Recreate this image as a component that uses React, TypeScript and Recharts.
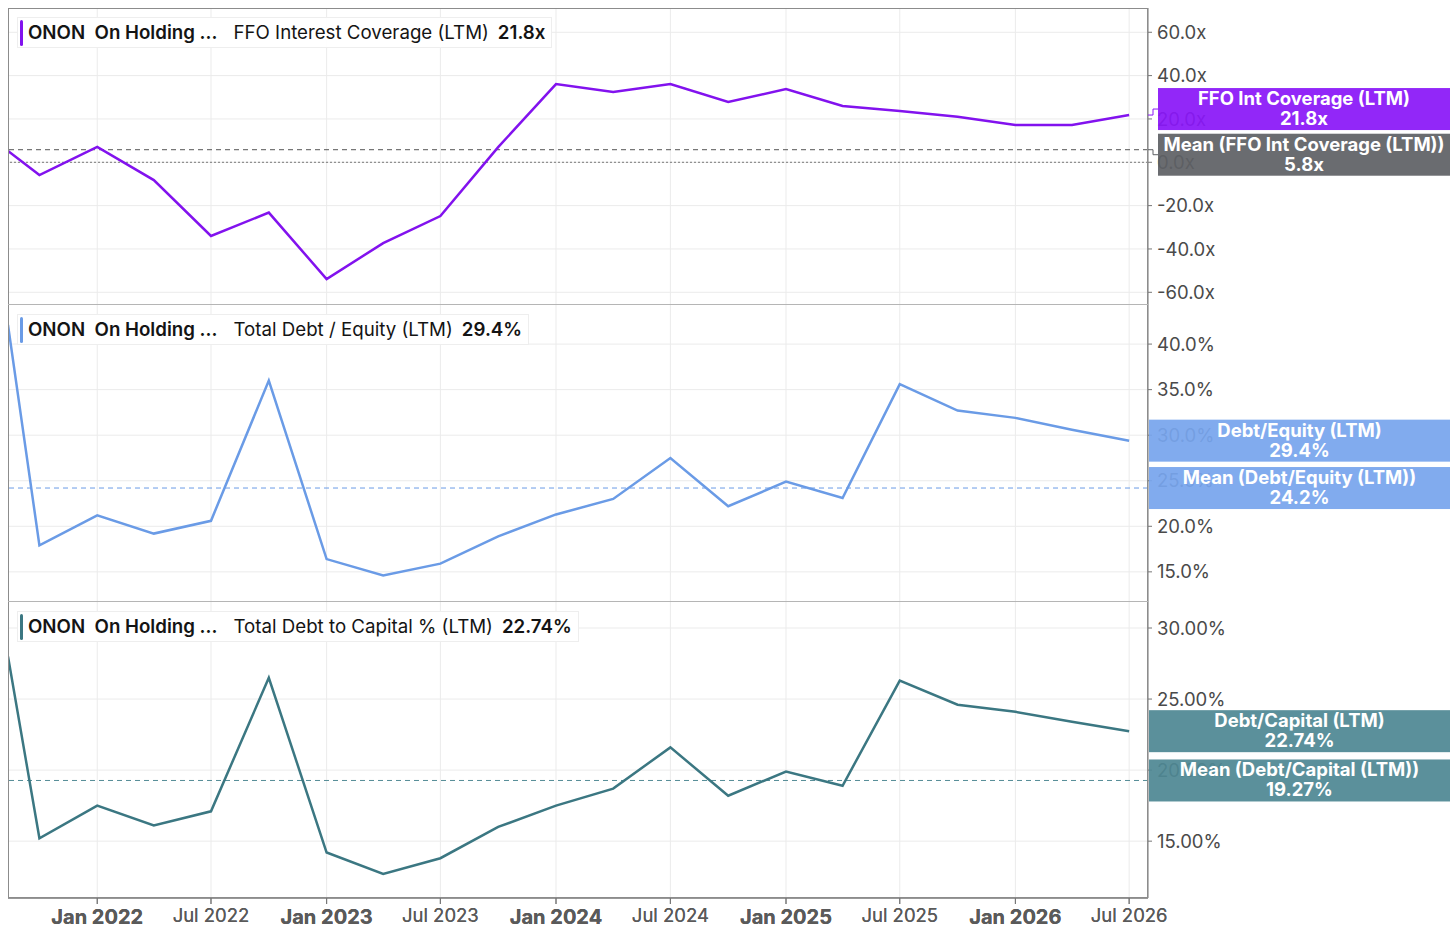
import React from "react";
import {
  CartesianGrid,
  Line,
  LineChart,
  ReferenceLine,
  XAxis,
  YAxis,
} from "recharts";

const dates = [
  "2021-08-12", "2021-10-01", "2022-01-01", "2022-04-01", "2022-07-01",
  "2022-10-01", "2023-01-01", "2023-04-01", "2023-07-01", "2023-10-01",
  "2024-01-01", "2024-04-01", "2024-07-01", "2024-10-01", "2025-01-01",
  "2025-04-01", "2025-07-01", "2025-10-01", "2026-01-01", "2026-04-01",
  "2026-07-01",
];

const ffoCoverage = [
  5.2, -5.9, 7.1, -8.2, -34.0, -23.2, -53.9, -37.3, -24.8, 7.0, 36.1,
  32.4, 36.1, 27.8, 33.8, 26.0, 23.7, 21.0, 17.2, 17.2, 21.8,
];

const debtToEquity = [
  42.1, 17.9, 21.2, 19.2, 20.6, 36.0, 16.4, 14.6, 15.9, 18.9, 21.3,
  23.0, 27.5, 22.2, 24.9, 23.1, 35.6, 32.7, 31.9, 30.6, 29.4,
];

const debtToCapital = [
  28.0, 15.2, 17.5, 16.1, 17.1, 26.5, 14.2, 12.7, 13.8, 16.0, 17.5,
  18.7, 21.6, 18.2, 19.9, 18.9, 26.3, 24.6, 24.1, 23.4, 22.74,
];

const xTickDates = [
  "2022-01-01", "2022-07-01", "2023-01-01", "2023-07-01", "2024-01-01",
  "2024-07-01", "2025-01-01", "2025-07-01", "2026-01-01", "2026-07-01",
];

const ffoTicks = [-60, -40, -20, 0, 20, 40, 60];
const deTicks = [15, 20, 25, 30, 35, 40];
const dcTicks = [15, 20, 25, 30];

const ffoMean = 5.8;
const deMean = 24.2;
const dcMean = 19.27;

const MONTHS = ["Jan", "Feb", "Mar", "Apr", "May", "Jun", "Jul", "Aug", "Sep", "Oct", "Nov", "Dec"];
const FONT = "Inter, 'Noto Sans', sans-serif";
const WIDTH = 1456;
const AXIS_W = 308;

const toTime = (d: string) => new Date(d + "T00:00:00Z").getTime();
const xDomain = [toTime("2021-08-12"), toTime("2026-07-31")];
const xTicks = xTickDates.map(toTime);

const rows = dates.map((d, i) => ({
  t: toTime(d),
  ffo: ffoCoverage[i],
  de: debtToEquity[i],
  dc: debtToCapital[i],
}));

function XTick(props: any) {
  const { x, y, payload } = props;
  const d = new Date(payload.value);
  const jan = d.getUTCMonth() === 0;
  return (
    <text
      x={x}
      y={y + (jan ? 18 : 16)}
      textAnchor="middle"
      fill="#5a5a5a"
      fontFamily={FONT}
      fontSize={jan ? 20 : 18.5}
      fontWeight={jan ? 700 : 400}
    >
      {`${MONTHS[d.getUTCMonth()]} ${d.getUTCFullYear()}`}
    </text>
  );
}

function SideBox(props: any) {
  const { viewBox, fill, title, value, shift = 0, gap = 0, connector = false } = props;
  const right = viewBox.x + viewBox.width;
  const cy = viewBox.y + shift;
  const left = right + gap;
  const w = 1450 - left;
  const h = 42;
  return (
    <g>
      {connector && (
        <path
          d={`M${right},${viewBox.y} L${right + 5},${viewBox.y} L${right + 5},${cy} L${left},${cy}`}
          stroke={fill}
          fill="none"
          strokeWidth={1}
        />
      )}
      <rect x={left} y={cy - h / 2} width={w} height={h} fill={fill} fillOpacity={0.93} />
      <text
        x={left + w / 2}
        y={cy - 4}
        textAnchor="middle"
        fill="#fff"
        fontFamily={FONT}
        fontSize={18.5}
        fontWeight={700}
      >
        {title}
      </text>
      <text
        x={left + w / 2}
        y={cy + 16}
        textAnchor="middle"
        fill="#fff"
        fontFamily={FONT}
        fontSize={18.5}
        fontWeight={700}
      >
        {value}
      </text>
    </g>
  );
}

type PanelProps = {
  top: number;
  height: number;
  marginTop: number;
  dataKey: "ffo" | "de" | "dc";
  domain: number[];
  ticks: number[];
  fmt: (v: number) => string;
  lineColor: string;
  boxColor: string;
  meanColor: string;
  meanBoxColor: string;
  mean: number;
  last: number;
  boxTitle: string;
  meanTitle: string;
  lastShift?: number;
  meanShift?: number;
  boxGap?: number;
  zeroLine?: boolean;
  showX?: boolean;
};

function Panel(p: PanelProps) {
  const margin = { top: p.marginTop, right: 0, bottom: 0, left: 8 };
  const xAxis = (
    <XAxis
      dataKey="t"
      type="number"
      scale="time"
      domain={xDomain}
      ticks={xTicks}
      hide={!p.showX}
      height={p.showX ? 41 : 0}
      axisLine={{ stroke: "#777" }}
      tickLine={{ stroke: "#777" }}
      tickSize={6}
      tick={<XTick />}
      interval={0}
      allowDataOverflow
    />
  );
  return (
    <div style={{ position: "absolute", left: 0, top: p.top, width: WIDTH, height: p.height }}>
      <div style={{ position: "absolute", left: 0, top: 0 }}>
        <LineChart width={WIDTH} height={p.height} data={rows} margin={margin}>
          <CartesianGrid
            stroke="#ebebeb"
            verticalValues={xTicks}
            horizontalValues={p.ticks}
          />
          {xAxis}
          <YAxis
            orientation="right"
            type="number"
            domain={p.domain}
            ticks={p.ticks}
            width={AXIS_W}
            allowDataOverflow
            axisLine={{ stroke: "#777" }}
            tickLine={{ stroke: "#777" }}
            tickSize={4}
            tickMargin={5}
            interval={0}
            tickFormatter={p.fmt}
            tick={{ fill: "#4a4a4a", fontSize: 18.5, fontFamily: FONT, textAnchor: "start" }}
          />
          {p.zeroLine && (
            <ReferenceLine y={0} stroke="#777" strokeDasharray="2 2" strokeWidth={1} />
          )}
          <ReferenceLine
            y={p.mean}
            stroke={p.meanColor}
            strokeDasharray="5 4"
            strokeWidth={1}
          />
          <Line
            type="linear"
            dataKey={p.dataKey}
            stroke={p.lineColor}
            strokeWidth={2.5}
            dot={false}
            isAnimationActive={false}
          />
        </LineChart>
      </div>
      <div style={{ position: "absolute", left: 0, top: 0, pointerEvents: "none" }}>
        <LineChart width={WIDTH} height={p.height} data={rows} margin={margin}>
          {xAxis}
          <YAxis
            orientation="right"
            type="number"
            domain={p.domain}
            ticks={p.ticks}
            width={AXIS_W}
            allowDataOverflow
            axisLine={false}
            tickLine={false}
            tick={false}
          />
          <ReferenceLine
            y={p.mean}
            stroke="none"
            label={(lp: any) => (
              <SideBox
                viewBox={lp.viewBox}
                fill={p.meanBoxColor}
                title={p.meanTitle}
                value={p.fmt(p.mean)}
                shift={p.meanShift}
                gap={p.boxGap}
                connector={p.zeroLine}
              />
            )}
          />
          <ReferenceLine
            y={p.last}
            stroke="none"
            label={(lp: any) => (
              <SideBox
                viewBox={lp.viewBox}
                fill={p.boxColor}
                title={p.boxTitle}
                value={p.fmt(p.last)}
                shift={p.lastShift}
                gap={p.boxGap}
                connector={p.zeroLine}
              />
            )}
          />
        </LineChart>
      </div>
    </div>
  );
}

function LegendTag(props: { top: number; color: string; metric: string; value: string }) {
  return (
    <div
      style={{
        position: "absolute",
        left: 17,
        top: props.top,
        height: 29,
        display: "flex",
        alignItems: "center",
        background: "rgba(255,255,255,0.95)",
        border: "1px solid #eeeeee",
        fontFamily: FONT,
        fontSize: 18.7,
        color: "#141414",
        paddingRight: 6,
        whiteSpace: "nowrap",
      }}
    >
      <span
        style={{
          width: 3,
          height: 26,
          borderRadius: 2,
          background: props.color,
          marginLeft: 2,
          marginRight: 5,
        }}
      />
      <span style={{ fontWeight: 600 }}>ONON&nbsp;&nbsp;On Holding ...</span>
      <span style={{ marginLeft: 16 }}>{props.metric}</span>
      <span style={{ fontWeight: 600, marginLeft: 9 }}>{props.value}</span>
    </div>
  );
}

export default function App() {
  return (
    <div
      style={{
        position: "absolute",
        left: 0,
        top: 0,
        width: WIDTH,
        height: 939,
        background: "#fff",
        overflow: "hidden",
      }}
    >
      <Panel
        top={0}
        height={304}
        marginTop={8}
        dataKey="ffo"
        domain={[-65.4, 71.2]}
        ticks={ffoTicks}
        fmt={(v) => `${v.toFixed(1)}x`}
        lineColor="#8212ee"
        boxColor="#8a17f7"
        meanColor="#555"
        meanBoxColor="#5f6165"
        mean={ffoMean}
        last={ffoCoverage[ffoCoverage.length - 1]}
        boxTitle="FFO Int Coverage (LTM)"
        meanTitle="Mean (FFO Int Coverage (LTM))"
        lastShift={-6}
        meanShift={5}
        boxGap={10}
        zeroLine
      />
      <Panel
        top={304}
        height={297}
        marginTop={0}
        dataKey="de"
        domain={[11.8, 44.4]}
        ticks={deTicks}
        fmt={(v) => `${v.toFixed(1)}%`}
        lineColor="#6a9be6"
        boxColor="#77a5ed"
        meanColor="#6a9be6"
        meanBoxColor="#77a5ed"
        mean={deMean}
        last={debtToEquity[debtToEquity.length - 1]}
        boxTitle="Debt/Equity (LTM)"
        meanTitle="Mean (Debt/Equity (LTM))"
        boxGap={1}
      />
      <Panel
        top={601}
        height={338}
        marginTop={0}
        dataKey="dc"
        domain={[11.0, 31.9]}
        ticks={dcTicks}
        fmt={(v) => `${v.toFixed(2)}%`}
        lineColor="#3b7782"
        boxColor="#4f8893"
        meanColor="#558c97"
        meanBoxColor="#4f8893"
        mean={dcMean}
        last={debtToCapital[debtToCapital.length - 1]}
        boxTitle="Debt/Capital (LTM)"
        meanTitle="Mean (Debt/Capital (LTM))"
        boxGap={1}
        showX
      />
      <div
        style={{
          position: "absolute",
          left: 8,
          top: 8,
          width: 1140,
          height: 890,
          border: "1px solid #8c8c8c",
          boxSizing: "border-box",
          pointerEvents: "none",
        }}
      />
      <div style={{ position: "absolute", left: 8, top: 304, width: 1140, height: 1, background: "#b5b5b5" }} />
      <div style={{ position: "absolute", left: 8, top: 601, width: 1140, height: 1, background: "#b5b5b5" }} />
      <LegendTag top={17} color="#8212ee" metric="FFO Interest Coverage (LTM)" value="21.8x" />
      <LegendTag top={314} color="#6a9be6" metric="Total Debt / Equity (LTM)" value="29.4%" />
      <LegendTag top={611} color="#3b7782" metric="Total Debt to Capital % (LTM)" value="22.74%" />
    </div>
  );
}
